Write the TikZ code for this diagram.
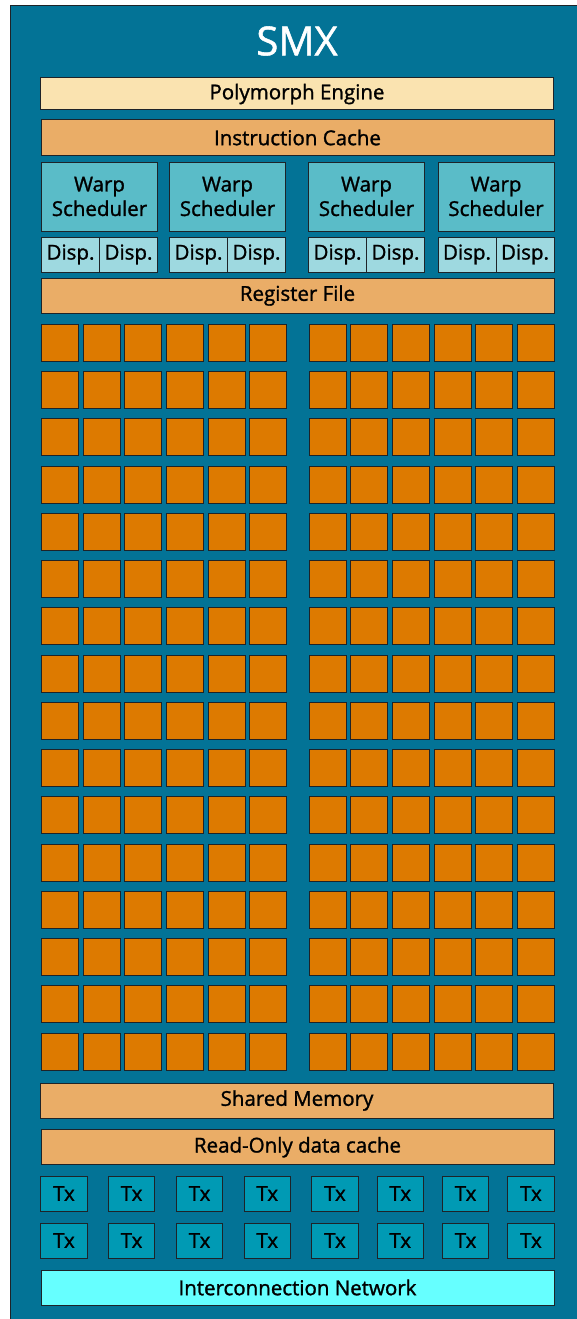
\documentclass[tikz,border=0pt]{standalone}
\usepackage{fontspec}
\setmainfont{Open Sans}[RawFeature={embolden=1.3}]
\definecolor{smxbg}{RGB}{3,115,150}
\definecolor{alu}{RGB}{221,122,0}
\definecolor{bar}{RGB}{234,173,103}
\definecolor{poly}{RGB}{250,227,176}
\definecolor{warp}{RGB}{90,188,200}
\definecolor{disp}{RGB}{158,217,224}
\definecolor{txc}{RGB}{0,154,180}
\definecolor{net}{RGB}{102,255,255}
\definecolor{edge}{RGB}{30,35,40}
\tikzset{
  box/.style={draw=edge, line width=1pt, inner sep=0pt, outer sep=0pt, anchor=north west, text=black, font=\fontsize{20.5}{24}\selectfont},
  barbox/.style={box, fill=bar, minimum width=513pt, minimum height=35pt},
  alubox/.style={box, fill=alu, minimum width=37pt, minimum height=37pt},
  warpbox/.style={box, fill=warp, minimum width=116pt, minimum height=69pt, align=center, font=\fontsize{20.5}{24.5}\selectfont},
  dispbox/.style={box, fill=disp, minimum width=58pt, minimum height=35pt},
  txbox/.style={box, fill=txc, minimum width=46.5pt, minimum height=35pt},
}
\begin{document}
\begin{tikzpicture}[x=1pt,y=-1pt]
\useasboundingbox (0,0) rectangle (576,1319);
\fill[smxbg] (10,6) rectangle (580,1325);
\draw[edge, line width=1pt] (10,1325) -- (10,6) -- (580,6);
\node[text=white, font=\fontsize{40}{44}\selectfont] (title) at (297,41) {SMX};
\node[barbox, fill=poly, minimum height=32pt] (poly) at (40.5,78) {Polymorph Engine};
\node[barbox] (icache) at (41,120) {Instruction Cache};
\foreach \x [count=\i] in {41.5,169.5,308.5,438} {
  \node[warpbox] (ws\i) at (\x,162) {Warp\\Scheduler};
  \node[dispbox] (da\i) at (\x,237) {Disp.};
  \node[dispbox] (db\i) at (\x+58,237) {Disp.};
}
\node[barbox] (reg) at (41,278) {Register File};
\foreach \r in {0,...,15} {
  \foreach \c in {0,...,5} {
    \node[alubox] (aluL-\r-\c) at (41.5+\c*41.65,324.3+\r*47.25) {};
    \node[alubox] (aluR-\r-\c) at (309.3+\c*41.65,324.3+\r*47.25) {};
  }
}
\node[barbox] (smem) at (40.5,1083) {Shared Memory};
\node[barbox] (rocache) at (41,1129.7) {Read-Only data cache};
\foreach \x [count=\i] in {40.7,108.3,176.3,244,311.7,377,442.3,507.7} {
  \node[txbox] (txa\i) at (\x,1176) {Tx};
  \node[txbox] (txb\i) at (\x,1223) {Tx};
}
\node[barbox, fill=net] (net) at (41,1270) {Interconnection Network};
\end{tikzpicture}
\end{document}
